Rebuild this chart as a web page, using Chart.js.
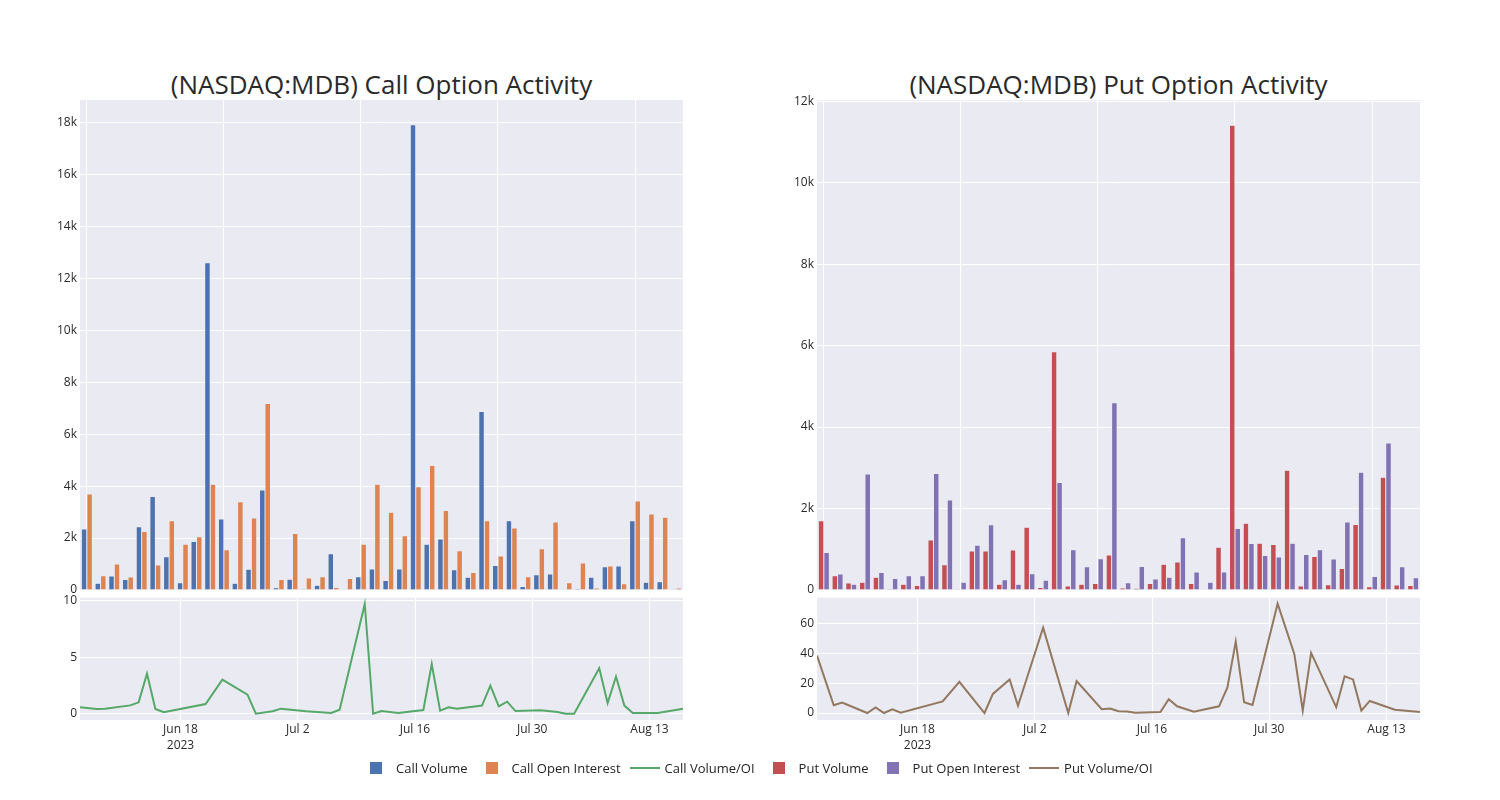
<!DOCTYPE html>
<html lang="en">
  <head>
    <meta charset="UTF-8" />
    <title>(NASDAQ:MDB) Option Activity</title>
    <script src="https://cdn.jsdelivr.net/npm/chart.js@4.4.0/dist/chart.umd.min.js"></script>
    <style>
      body {
        margin: 0;
        width: 1500px;
        height: 800px;
        position: relative;
        overflow: hidden;
        background: #fff;
        font-family: "Open Sans", sans-serif;
      }
      .box { position: absolute; }
      .title {
        position: absolute;
        top: 69px;
        width: 603px;
        text-align: center;
        font-size: 26px;
        line-height: 30px;
        color: #2a2a2a;
        white-space: nowrap;
      }
      #legend {
        position: absolute;
        left: 356px;
        top: 759px;
        display: flex;
        gap: 4px;
        font-size: 13px;
        color: #242424;
        line-height: 18px;
      }
      .item { display: flex; align-items: center; }
      .mark { width: 40px; height: 18px; display: flex; align-items: center; justify-content: center; }
    </style>
  </head>
  <body>
    <div class="title" style="left: 80px">(NASDAQ:MDB) Call Option Activity</div>
    <div class="title" style="left: 817px">(NASDAQ:MDB) Put Option Activity</div>
    <div class="box" style="left: 40px; top: 60px"><canvas id="callBars" width="683" height="545"></canvas></div>
    <div class="box" style="left: 777px; top: 60px"><canvas id="putBars" width="683" height="545"></canvas></div>
    <div class="box" style="left: 40px; top: 580px"><canvas id="callRatioChart" width="683" height="180"></canvas></div>
    <div class="box" style="left: 777px; top: 580px"><canvas id="putRatioChart" width="683" height="180"></canvas></div>
    <div id="legend"></div>

    <script>
      // one bar pair per trading day (categories, labels hidden)
      const barDates = [
        "2023-06-06", "2023-06-08", "2023-06-09", "2023-06-12", "2023-06-13", "2023-06-14",
        "2023-06-15", "2023-06-16", "2023-06-21", "2023-06-23", "2023-06-26", "2023-06-27",
        "2023-06-29", "2023-06-30", "2023-07-03", "2023-07-05", "2023-07-06", "2023-07-07",
        "2023-07-10", "2023-07-11", "2023-07-12", "2023-07-13", "2023-07-14", "2023-07-17",
        "2023-07-18", "2023-07-19", "2023-07-20", "2023-07-21", "2023-07-24", "2023-07-25",
        "2023-07-26", "2023-07-27", "2023-07-28", "2023-07-31", "2023-08-01", "2023-08-02",
        "2023-08-03", "2023-08-07", "2023-08-08", "2023-08-09", "2023-08-10", "2023-08-11",
        "2023-08-14", "2023-08-17",
      ];
      const callVolume = [
        2350, 260, 540, 400, 2440, 3600, 1280, 280, 1870, 12600, 2730, 260,
        800, 3850, 90, 410, 40, 180, 1400, 10, 510, 810, 370, 810,
        17920, 1760, 1960, 780, 490, 6870, 940, 2670, 130, 590, 620, 10,
        50, 490, 900, 920, 2670, 300, 320, 30,
      ];
      const callOpenInterest = [
        3700, 550, 1000, 500, 2250, 960, 2670, 1760, 2050, 4070, 1550, 3400,
        2770, 7180, 400, 2180, 460, 510, 100, 440, 1760, 4070, 2990, 2090,
        3980, 4790, 3060, 1510, 670, 2670, 1310, 2390, 510, 1590, 2620, 280,
        1040, 80, 920, 240, 3430, 2930, 2800, 80,
      ];
      const putVolume = [
        1700, 350, 170, 190, 310, 30, 140, 110, 1230, 620, 5, 960,
        960, 140, 980, 1540, 60, 5850, 100, 140, 160, 860, 50, 40,
        160, 630, 690, 160, 10, 1050, 11410, 1640, 1150, 1120, 2940, 100,
        820, 130, 530, 1610, 80, 2770, 120, 110,
      ];
      const putOpenInterest = [
        920, 390, 140, 2850, 430, 280, 350, 350, 2860, 2210, 190, 1100,
        1600, 250, 140, 400, 240, 2640, 990, 570, 770, 4600, 180, 580,
        270, 310, 1280, 440, 190, 440, 1510, 1140, 850, 810, 1150, 870,
        990, 760, 1670, 2890, 330, 3610, 570, 300,
      ];

      // volume / open interest lines (date axis)
      const callRatioDates = [
        "2023-06-06", "2023-06-08", "2023-06-09", "2023-06-12", "2023-06-13", "2023-06-14",
        "2023-06-15", "2023-06-16", "2023-06-21", "2023-06-23", "2023-06-26", "2023-06-27",
        "2023-06-29", "2023-06-30", "2023-07-03", "2023-07-06", "2023-07-07", "2023-07-10",
        "2023-07-11", "2023-07-12", "2023-07-14", "2023-07-17", "2023-07-18", "2023-07-19",
        "2023-07-20", "2023-07-21", "2023-07-24", "2023-07-25", "2023-07-26", "2023-07-27",
        "2023-07-28", "2023-07-31", "2023-08-02", "2023-08-03", "2023-08-04", "2023-08-07",
        "2023-08-08", "2023-08-09", "2023-08-10", "2023-08-11", "2023-08-14", "2023-08-17",
      ];
      const callRatio = [
        0.59, 0.44, 0.47, 0.76, 1.03, 3.56, 0.44, 0.15, 0.88, 3.03, 1.71, 0.03,
        0.24, 0.47, 0.24, 0.09, 0.38, 9.7, 0.02, 0.26, 0.09, 0.35, 4.4, 0.3,
        0.59, 0.47, 0.74, 2.5, 0.68, 1.09, 0.26, 0.32, 0.18, 0.03, 0.03, 4.03,
        0.97, 3.3, 0.74, 0.09, 0.09, 0.47,
      ];
      const putRatioDates = [
        "2023-06-06", "2023-06-08", "2023-06-09", "2023-06-12", "2023-06-13", "2023-06-14",
        "2023-06-15", "2023-06-16", "2023-06-21", "2023-06-23", "2023-06-26", "2023-06-27",
        "2023-06-29", "2023-06-30", "2023-07-03", "2023-07-06", "2023-07-07", "2023-07-10",
        "2023-07-11", "2023-07-12", "2023-07-13", "2023-07-14", "2023-07-17", "2023-07-18",
        "2023-07-19", "2023-07-21", "2023-07-24", "2023-07-25", "2023-07-26", "2023-07-27",
        "2023-07-28", "2023-07-31", "2023-08-02", "2023-08-03", "2023-08-04", "2023-08-07",
        "2023-08-08", "2023-08-09", "2023-08-10", "2023-08-11", "2023-08-14", "2023-08-17",
      ];
      const putRatio = [
        38.6, 5.2, 7.0, 0, 3.8, 0, 2.5, 0.2, 7.8, 20.9, 0, 12.8,
        22.6, 4.9, 57.3, 0, 21.5, 2.5, 3, 1.2, 1, 0.2, 0.6, 9.3,
        4.5, 0.9, 4.5, 17, 48, 7.2, 5.4, 73.5, 39.5, 1.6, 40.4, 4,
        24.7, 22.6, 1.6, 8.1, 2.2, 0.7,
      ];

      const dateTicks = ["2023-06-18", "2023-07-02", "2023-07-16", "2023-07-30", "2023-08-13"];
      const callBarTicks = [0, 2000, 4000, 6000, 8000, 10000, 12000, 14000, 16000, 18000];
      const putBarTicks = [0, 2000, 4000, 6000, 8000, 10000, 12000];
      const callRatioTicks = [0, 5, 10];
      const putRatioTicks = [0, 20, 40, 60];

      const INK = "#2a2a2a";
      const FONT = "'Open Sans', sans-serif";
      const PLOT_BG = "#EAEAF2";
      const MONTHS = ["Jan", "Feb", "Mar", "Apr", "May", "Jun", "Jul", "Aug", "Sep", "Oct", "Nov", "Dec"];

      const series = [
        { label: "Call Volume", color: "#4C72B0", kind: "bar" },
        { label: "Call Open Interest", color: "#DD8452", kind: "bar" },
        { label: "Call Volume/OI", color: "#55A868", kind: "line" },
        { label: "Put Volume", color: "#C44E52", kind: "bar" },
        { label: "Put Open Interest", color: "#8172B3", kind: "bar" },
        { label: "Put Volume/OI", color: "#937860", kind: "line" },
      ];

      // grey plot background like plotly's seaborn template
      const plotBg = {
        id: "plotBg",
        beforeDraw(chart) {
          const a = chart.chartArea;
          chart.ctx.save();
          chart.ctx.fillStyle = PLOT_BG;
          chart.ctx.fillRect(a.left, a.top, a.right - a.left, a.bottom - a.top);
          chart.ctx.restore();
        },
      };

      function kLabel(v) {
        return v === 0 ? "0" : v / 1000 + "k";
      }

      function dateLabel(v, i) {
        const d = new Date(v);
        const s = MONTHS[d.getUTCMonth()] + " " + d.getUTCDate();
        return i === 0 ? [s, String(d.getUTCFullYear())] : s;
      }

      function yAxis(min, max, ticks, fmt) {
        return {
          min: min,
          max: max,
          grid: { color: "#fff", lineWidth: 1, drawTicks: false },
          border: { display: false },
          ticks: { color: INK, font: { family: FONT, size: 12 }, padding: 3, callback: fmt },
          afterBuildTicks: (s) => { s.ticks = ticks.map((v) => ({ value: v })); },
          afterFit: (s) => { s.width = 40; },
        };
      }

      function barChart(id, sets, yMax, yTicks) {
        return new Chart(document.getElementById(id), {
          type: "bar",
          data: {
            labels: barDates,
            datasets: sets.map((s) => ({
              label: s.label,
              data: s.data,
              backgroundColor: s.color,
              borderColor: PLOT_BG,
              borderWidth: 0.5,
              categoryPercentage: 0.8,
              barPercentage: 1,
            })),
          },
          options: {
            responsive: false,
            animation: false,
            layout: { padding: { left: 0, right: 40, top: 40, bottom: 0 } },
            plugins: { legend: { display: false }, tooltip: { enabled: false } },
            scales: {
              x: {
                offset: true,
                grid: { color: "#fff", offset: false, drawTicks: false },
                border: { display: false },
                ticks: { display: false },
                afterBuildTicks: (s) => { s.ticks = s.ticks.filter((t) => t.value % 10 === 0); },
                // leave room under the plot for the y "0" label so the plot ends at y=590
                afterFit: (s) => { s.height = 15; },
              },
              y: yAxis(0, yMax, yTicks, kLabel),
            },
          },
          plugins: [plotBg],
        });
      }

      function ratioChart(id, dates, values, color, yMin, yMax, yTicks) {
        return new Chart(document.getElementById(id), {
          type: "line",
          data: {
            datasets: [{
              data: dates.map((d, i) => ({ x: Date.parse(d), y: values[i] })),
              borderColor: color,
              borderWidth: 2,
              pointRadius: 0,
              tension: 0,
              fill: false,
            }],
          },
          options: {
            responsive: false,
            animation: false,
            layout: { padding: { left: 0, right: 40, top: 17.7, bottom: 0 } },
            plugins: { legend: { display: false }, tooltip: { enabled: false } },
            scales: {
              x: {
                type: "linear",
                min: Date.parse("2023-06-06"),
                max: Date.parse("2023-08-17"),
                grid: { color: "#fff", drawTicks: false },
                border: { display: false },
                ticks: {
                  color: INK,
                  font: { family: FONT, size: 12, lineHeight: 1.3 },
                  padding: 2,
                  maxRotation: 0,
                  autoSkip: false,
                  callback: dateLabel,
                },
                afterBuildTicks: (s) => { s.ticks = dateTicks.map((d) => ({ value: Date.parse(d) })); },
                afterFit: (s) => { s.height = 40; },
              },
              y: yAxis(yMin, yMax, yTicks, (v) => String(v)),
            },
          },
          plugins: [plotBg],
        });
      }

      barChart("callBars", [
        { label: series[0].label, color: series[0].color, data: callVolume },
        { label: series[1].label, color: series[1].color, data: callOpenInterest },
      ], 18870, callBarTicks);

      barChart("putBars", [
        { label: series[3].label, color: series[3].color, data: putVolume },
        { label: series[4].label, color: series[4].color, data: putOpenInterest },
      ], 12030, putBarTicks);

      ratioChart("callRatioChart", callRatioDates, callRatio, series[2].color, -0.53, 10.26, callRatioTicks);
      ratioChart("putRatioChart", putRatioDates, putRatio, series[5].color, -4.7, 77.5, putRatioTicks);

      // shared legend under both panels
      const legend = document.getElementById("legend");
      series.forEach((s) => {
        const item = document.createElement("div");
        item.className = "item";
        const mark = document.createElement("span");
        mark.className = "mark";
        const sw = document.createElement("i");
        sw.style.background = s.color;
        sw.style.width = s.kind === "bar" ? "12px" : "30px";
        sw.style.height = s.kind === "bar" ? "12px" : "2px";
        mark.appendChild(sw);
        const txt = document.createElement("span");
        txt.textContent = s.label;
        item.appendChild(mark);
        item.appendChild(txt);
        legend.appendChild(item);
      });
    </script>
  </body>
</html>
